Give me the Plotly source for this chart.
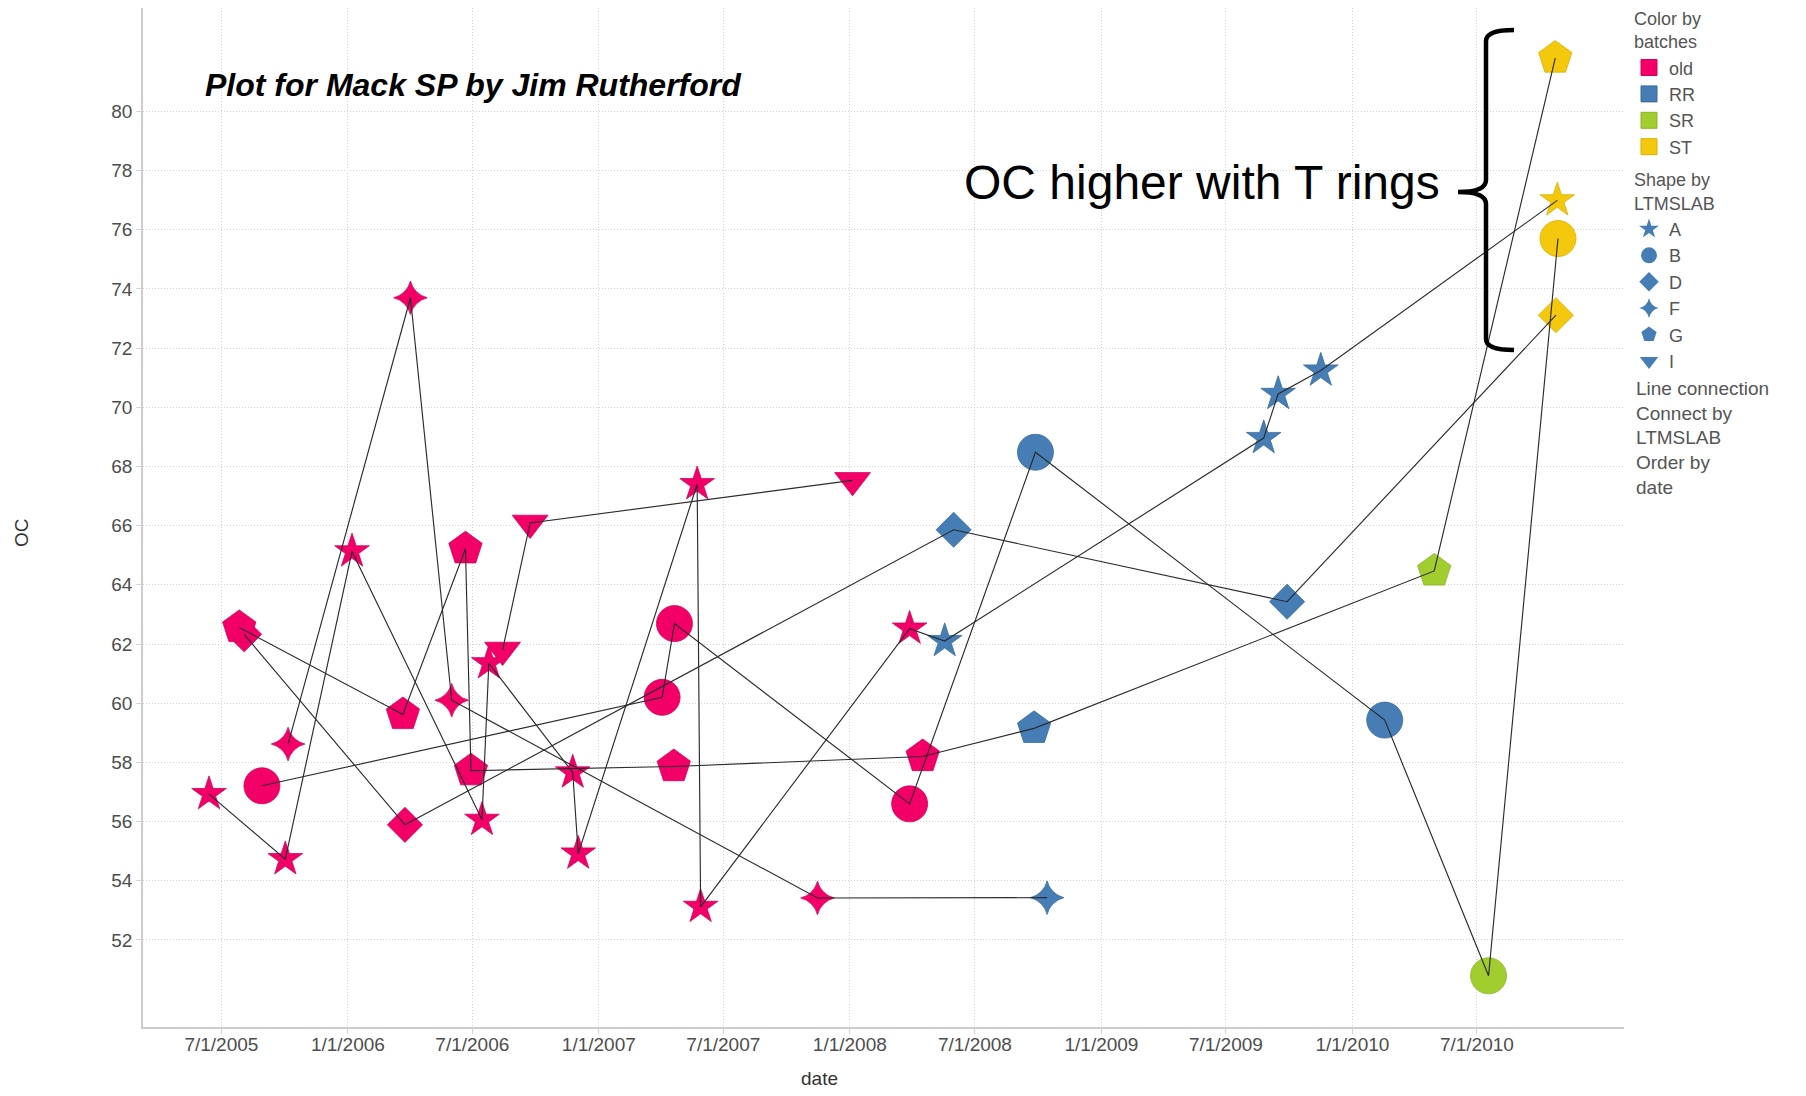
import pandas as pd
import plotly.graph_objects as go

# ---------------- data ----------------
test_date = [
    # LTMSLAB A
    "2005-06-13", "2005-10-02", "2006-01-07", "2006-07-15", "2006-07-25",
    "2006-11-24", "2006-12-02", "2007-05-24", "2007-05-29", "2008-03-28",
    "2008-05-18", "2009-08-25", "2009-09-15", "2009-11-16", "2010-10-26",
    # LTMSLAB B
    "2005-08-29", "2007-04-03", "2007-04-21", "2008-03-28", "2008-09-27",
    "2010-02-17", "2010-07-18", "2010-10-27",
    # LTMSLAB D
    "2005-08-03", "2006-03-25", "2008-05-31", "2009-09-28", "2010-10-24",
    # LTMSLAB F
    "2005-10-06", "2006-04-02", "2006-06-01", "2007-11-15", "2008-10-14",
    # LTMSLAB G
    "2005-07-27", "2006-03-22", "2006-06-21", "2006-06-29", "2007-04-20",
    "2008-04-16", "2008-09-25", "2010-04-30", "2010-10-23",
    # LTMSLAB I
    "2006-08-14", "2006-09-23", "2008-01-05",
]
oc_value = [
    56.93, 54.73, 65.13, 56.06, 61.35, 57.66, 54.92, 67.40, 53.12, 62.52,
    62.10, 68.96, 70.45, 71.24, 76.99,
    57.21, 60.20, 62.69, 56.60, 68.48, 59.43, 50.79, 75.70,
    62.33, 55.89, 65.86, 63.43, 73.11,
    58.62, 73.70, 60.10, 53.42, 53.43,
    62.56, 59.62, 65.22, 57.72, 57.86, 58.20, 59.15, 64.47, 81.80,
    61.80, 66.09, 67.53,
]
batch = [
    "old", "old", "old", "old", "old", "old", "old", "old", "old", "old",
    "RR", "RR", "RR", "RR", "ST",
    "old", "old", "old", "old", "RR", "RR", "SR", "ST",
    "old", "old", "RR", "RR", "ST",
    "old", "old", "old", "old", "RR",
    "old", "old", "old", "old", "old", "old", "RR", "SR", "ST",
    "old", "old", "old",
]
ltmslab = (["A"] * 15 + ["B"] * 8 + ["D"] * 5 + ["F"] * 5 + ["G"] * 9 + ["I"] * 3)

batch_names = ["old", "RR", "SR", "ST"]
lab_names = ["A", "B", "D", "F", "G", "I"]

x_tick_dates = ["2005-07-01", "2006-01-01", "2006-07-01", "2007-01-01",
                "2007-07-01", "2008-01-01", "2008-07-01", "2009-01-01",
                "2009-07-01", "2010-01-01", "2010-07-01"]
x_tick_text = ["7/1/2005", "1/1/2006", "7/1/2006", "1/1/2007", "7/1/2007",
               "1/1/2008", "7/1/2008", "1/1/2009", "7/1/2009", "1/1/2010",
               "7/1/2010"]
y_tick_vals = [52, 54, 56, 58, 60, 62, 64, 66, 68, 70, 72, 74, 76, 78, 80]

# ---------------- styles ----------------
batch_color = {"old": "#F20068", "RR": "#467DB4", "SR": "#A2CD2E", "ST": "#F4C90D"}
batch_edge = {"old": "#D4005B", "RR": "#3B6C9E", "SR": "#8DB52A", "ST": "#D8B000"}
lab_symbol = {"A": "star", "B": "circle", "D": "diamond", "F": "star-diamond",
              "G": "pentagon", "I": "triangle-down"}
lab_size = {"A": 26, "B": 36, "D": 27, "F": 24, "G": 35, "I": 31}
legend_size = {"A": 15, "B": 16, "D": 15, "F": 14, "G": 16, "I": 16}

FONT = "Liberation Sans, Arial, sans-serif"
OFF = 8                      # page body margin
W, H = 1806 - 2 * OFF, 1096 - 2 * OFF
# plot area in page pixels
PL, PR, PT, PB = 143, 1624, 8, 1027


def px_x(p):
    return (p - PL) / (PR - PL)


def px_y(p):
    return (PB - p) / (PB - PT)


df = pd.DataFrame({"date": pd.to_datetime(test_date), "oc": oc_value,
                   "batch": batch, "lab": ltmslab})

fig = go.Figure()

# markers, coloured by batch, shaped by LTMSLAB
for b in batch_names:
    d = df[df["batch"] == b]
    fig.add_trace(go.Scatter(
        x=d["date"], y=d["oc"], mode="markers", showlegend=False,
        marker=dict(symbol=[lab_symbol[l] for l in d["lab"]],
                    size=[lab_size[l] for l in d["lab"]],
                    color=batch_color[b], opacity=1,
                    line=dict(color=batch_edge[b], width=0.8)),
        hoverinfo="x+y"))

# connecting lines, by LTMSLAB ordered by date (drawn over the markers)
for l in lab_names:
    d = df[df["lab"] == l].sort_values("date")
    fig.add_trace(go.Scatter(
        x=d["date"], y=d["oc"], mode="lines", showlegend=False,
        line=dict(color="#2B2B2B", width=1.15), hoverinfo="skip"))

# legend entries
for b in batch_names:
    fig.add_trace(go.Scatter(
        x=[None], y=[None], mode="markers", name=b,
        legendgroup="color", legendgrouptitle=dict(text="Color by<br>batches"),
        marker=dict(symbol="square", size=16, color=batch_color[b], opacity=1,
                    line=dict(color=batch_edge[b], width=1))))
for l in lab_names:
    fig.add_trace(go.Scatter(
        x=[None], y=[None], mode="markers", name=l,
        legendgroup="shape", legendgrouptitle=dict(text="Shape by<br>LTMSLAB"),
        marker=dict(symbol=lab_symbol[l], size=legend_size[l], opacity=1,
                    color=batch_color["RR"], line=dict(width=0))))

# curly bracket
top, bot, mid = 30, 350, 192
xv, xr, xn = 1486, 1514, 1458
pts = [("M", [(xr, top)]),
       ("Q", [(xv, top), (xv, top + 11)]),
       ("L", [(xv, mid - 12)]),
       ("Q", [(xv, mid), (xn, mid)]),
       ("Q", [(xv, mid), (xv, mid + 12)]),
       ("L", [(xv, bot - 11)]),
       ("Q", [(xv, bot), (xr, bot)])]
path = " ".join(c + " " + " ".join(f"{px_x(a):.5f},{px_y(b_):.5f}" for a, b_ in p)
                for c, p in pts)
fig.add_shape(type="path", path=path, xref="paper", yref="paper",
              line=dict(color="black", width=4.5))

annotations = [
    dict(text="<b><i>Plot for Mack SP by Jim Rutherford</i></b>",
         x=px_x(203), y=px_y(85), xanchor="left", yanchor="middle",
         font=dict(size=32, color="black", family=FONT)),
    dict(text="OC higher with T rings", x=px_x(962), y=px_y(182),
         xanchor="left", yanchor="middle",
         font=dict(size=48, color="black", family=FONT)),
    dict(text="date", x=px_x(819), y=px_y(1078), xanchor="center",
         yanchor="middle", font=dict(size=19, color="#333333", family=FONT)),
    dict(text="OC", x=px_x(21), y=px_y(533), xanchor="center",
         yanchor="middle", textangle=-90,
         font=dict(size=19, color="#333333", family=FONT)),
    dict(text="Line connection<br>Connect by<br>LTMSLAB<br>Order by<br>date",
         x=px_x(1634), y=px_y(376), xanchor="left", yanchor="top",
         align="left", font=dict(size=19, color="#555555", family=FONT)),
]
for a in annotations:
    a.update(xref="paper", yref="paper", showarrow=False)

axis_common = dict(showgrid=True, gridcolor="#D3D3D3", griddash="1px,2px",
                   gridwidth=1, showline=True, linecolor="#CCCCCC",
                   linewidth=1.5, zeroline=False, ticks="outside",
                   ticklen=5, tickcolor="#D3D3D3",
                   tickfont=dict(size=19, color="#4D4D4D", family=FONT))

fig.update_layout(
    width=W, height=H,
    margin=dict(l=PL - OFF, r=W - (PR - OFF), t=PT - OFF, b=H - (PB - OFF),
                autoexpand=False),
    paper_bgcolor="white", plot_bgcolor="white",
    font=dict(family=FONT),
    xaxis=dict(type="date", range=["2005-03-09", "2011-01-31"],
               tickmode="array", tickvals=x_tick_dates, ticktext=x_tick_text,
               ticklabelstandoff=-6, **axis_common),
    yaxis=dict(range=[49.06, 83.49], tickmode="array", tickvals=y_tick_vals,
               **axis_common),
    legend=dict(x=px_x(1629), y=px_y(-0.5), xanchor="left", yanchor="top",
                bgcolor="rgba(0,0,0,0)", borderwidth=0, itemsizing="trace",
                tracegroupgap=6,
                font=dict(size=18, color="#555555", family=FONT),
                grouptitlefont=dict(size=18, color="#555555", family=FONT)),
    annotations=annotations,
    showlegend=True,
)

fig.write_html("out.html")
